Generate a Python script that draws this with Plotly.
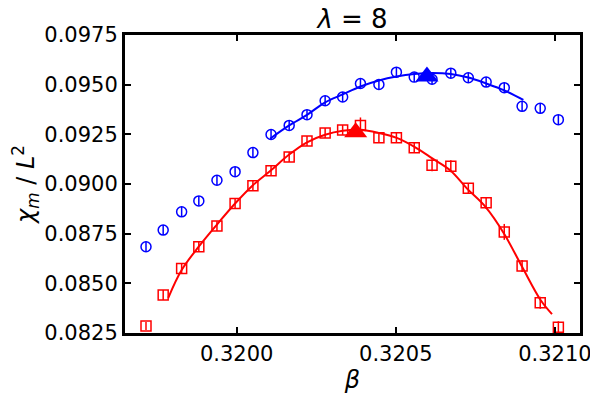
import plotly.graph_objects as go

# blue: circles (one data set), red: squares (other data set)
beta_blue = [0.319715, 0.319769, 0.319827, 0.319881, 0.319938, 0.319995, 0.320051, 0.320108,
             0.320165, 0.320221, 0.320278, 0.320333, 0.320389, 0.320447, 0.320502, 0.320558,
             0.320614, 0.320673, 0.320728, 0.320784, 0.320841, 0.320897, 0.320954, 0.321011]
chi_blue = [0.08684, 0.08768, 0.08860, 0.08915, 0.09019, 0.09062, 0.09158, 0.09249,
            0.09295, 0.09349, 0.09419, 0.09438, 0.09506, 0.09501, 0.09563, 0.09538,
            0.09527, 0.09558, 0.09535, 0.09513, 0.09485, 0.09391, 0.09381, 0.09324]
err_blue = [0.00025] * 24

beta_red = [0.319715, 0.319769, 0.319827, 0.319881, 0.319938, 0.319995, 0.320051, 0.320108,
            0.320165, 0.320221, 0.320278, 0.320333, 0.320389, 0.320447, 0.320502, 0.320558,
            0.320614, 0.320673, 0.320728, 0.320784, 0.320841, 0.320897, 0.320954, 0.321011]
chi_red = [0.08285, 0.08441, 0.08575, 0.08684, 0.08788, 0.08902, 0.08991, 0.09067,
           0.09136, 0.09216, 0.09257, 0.09272, 0.09295, 0.09233, 0.09233, 0.09183,
           0.09094, 0.09089, 0.08979, 0.08905, 0.08759, 0.08587, 0.08402, 0.08279]
err_red = [0.0002, 0.00025, 0.00025, 0.00025, 0.00025, 0.00025, 0.00025, 0.00025,
           0.00025, 0.00025, 0.00025, 0.00025, 0.0004, 0.00025, 0.00025, 0.00025,
           0.0003, 0.0003, 0.00025, 0.0003, 0.0004, 0.0003, 0.0003, 0.0003]

# fitted curves
fit_beta_blue = [0.320105, 0.320165, 0.320221, 0.320278, 0.320333, 0.320389, 0.320447, 0.320502,
                 0.320558, 0.320614, 0.320673, 0.320728, 0.320784, 0.320841, 0.320901]
fit_chi_blue = [0.09228, 0.09295, 0.09348, 0.09411, 0.09451, 0.09491, 0.09521, 0.09541,
                0.09554, 0.09559, 0.09554, 0.09536, 0.09506, 0.09471, 0.09423]

fit_beta_red = [0.319785, 0.319827, 0.319882, 0.319938, 0.319995, 0.320051, 0.320108, 0.320164,
                0.320221, 0.320278, 0.320333, 0.320389, 0.320447, 0.320503, 0.320560, 0.320616,
                0.320671, 0.320724, 0.320782, 0.320840, 0.320897, 0.320955, 0.320991]
fit_chi_red = [0.08427, 0.08567, 0.08687, 0.08796, 0.08902, 0.08994, 0.09069, 0.09147,
               0.09210, 0.09248, 0.09268, 0.09273, 0.09257, 0.09232, 0.09186, 0.09128,
               0.09069, 0.08977, 0.08885, 0.08751, 0.08583, 0.08416, 0.08345]

# peak positions (triangles)
peak_beta = [0.320598, 0.320374]
peak_chi = [0.09541, 0.09260]

BLUE = '#0000ff'
RED = '#ff0000'
FONT = 'DejaVu Sans'

fig = go.Figure()

fig.add_trace(go.Scatter(
    x=fit_beta_blue, y=fit_chi_blue, mode='lines',
    line=dict(color=BLUE, width=2, shape='spline'), showlegend=False
))
fig.add_trace(go.Scatter(
    x=fit_beta_red, y=fit_chi_red, mode='lines',
    line=dict(color=RED, width=2, shape='spline'), showlegend=False
))

fig.add_trace(go.Scatter(
    x=beta_blue, y=chi_blue, mode='markers',
    marker=dict(symbol='circle-open', size=10, color=BLUE, line=dict(width=1.5, color=BLUE)),
    error_y=dict(type='data', array=err_blue, color=BLUE, thickness=1.5, width=0),
    showlegend=False
))
fig.add_trace(go.Scatter(
    x=beta_red, y=chi_red, mode='markers',
    marker=dict(symbol='square-open', size=10, color=RED, line=dict(width=1.5, color=RED)),
    error_y=dict(type='data', array=err_red, color=RED, thickness=1.5, width=0),
    showlegend=False
))

fig.add_trace(go.Scatter(
    x=peak_beta, y=peak_chi, mode='markers',
    marker=dict(symbol='triangle-up', size=20, color=[BLUE, RED], line=dict(width=0)),
    showlegend=False
))

axis_common = dict(
    showline=True, linecolor='black', linewidth=3, mirror='ticks',
    ticks='inside', ticklen=6, tickwidth=2, tickcolor='black',
    showgrid=False, zeroline=False,
    tickfont=dict(family=FONT, size=21, color='black'),
)

# the page body adds an 8px offset, so the margins are shifted to compensate
fig.update_layout(
    width=598, height=399,
    margin=dict(l=117, r=26, t=27, b=74),
    plot_bgcolor='white', paper_bgcolor='white',
    font=dict(family=FONT, color='black'),
    title=dict(text='<i>λ</i> = 8', xref='paper', x=0.5, xanchor='center',
               yref='container', y=1 - 11 / 399, yanchor='middle',
               font=dict(family=FONT, size=26, color='black')),
    xaxis=dict(
        range=[0.319649, 0.321079],
        tickvals=[0.3200, 0.3205, 0.3210], ticktext=['0.3200', '0.3205', '0.3210'],
        title=dict(text='<i>β</i>', font=dict(family=FONT, size=24), standoff=4),
        **axis_common
    ),
    yaxis=dict(
        range=[0.0825, 0.0975],
        tickvals=[0.0825, 0.0850, 0.0875, 0.0900, 0.0925, 0.0950, 0.0975],
        ticktext=['0.0825', '0.0850', '0.0875', '0.0900', '0.0925', '0.0950', '0.0975'],
        title=dict(text='<i>χ<sub>m</sub></i> / <i>L</i><sup>2</sup>',
                   font=dict(family=FONT, size=24), standoff=8),
        **axis_common
    ),
)

fig.write_html("out.html")
